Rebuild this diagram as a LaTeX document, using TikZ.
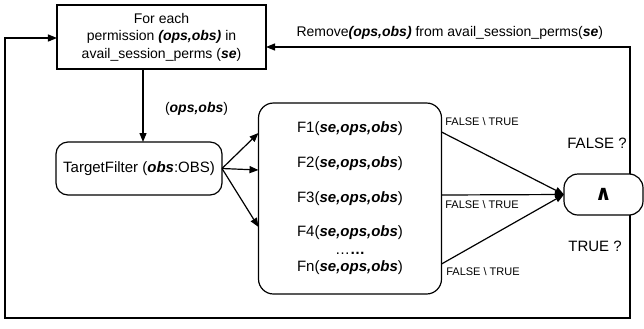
\documentclass[tikz,border=0pt]{standalone}
\usepackage{fontspec}
\setmainfont{Liberation Sans}
\newfontfamily\symfont{DejaVu Sans}
\usetikzlibrary{positioning}
\usetikzlibrary{calc,arrows.meta}

\newcommand{\bi}[1]{\textbf{\textit{#1}}}

\begin{document}
\begin{tikzpicture}[x=1bp,y=-1bp,line width=1.2bp,
		every node/.style={outer sep=0pt,inner sep=0pt},
		mtext/.style={font=\fontsize{14bp}{17.5bp}\selectfont},
		btext/.style={font=\fontsize{15bp}{18bp}\selectfont},
		small/.style={font=\fontsize{11bp}{13bp}\selectfont},
		block/.style={draw,line width=1.2bp,align=center,mtext},
		rblock/.style={block,rounded corners=12bp},
		flow/.style={-{Triangle[length=9bp,width=7bp]}},
		]
		\useasboundingbox (0,0) rectangle (644,328);

		% boxes
		\path (161.5,37) node[block,minimum width=209bp,minimum height=64bp] (top)
			{For each\\permission \bi{(ops,obs)} in\\avail\_session\_perms (\bi{se})};
		\path (139,168.5) node[rblock,btext,minimum width=166bp,minimum height=53bp] (tf)
			{TargetFilter (\bi{obs}:OBS)};
		\path (350,198.5) node[rblock,rounded corners=15bp,minimum width=183bp,minimum height=191bp] (fb) {};
		\path (603.5,194.5) node[rblock,rounded corners=14bp,minimum width=79bp,minimum height=41bp] (and)
			{\fontsize{21bp}{21bp}\symfont\bfseries ∧};

		% functions
		\path (350,129) node[btext] (f1) {F1(\bi{se,ops,obs})};
		\path (350,164) node[btext] (f2) {F2(\bi{se,ops,obs})};
		\path (350,199) node[btext] (f3) {F3(\bi{se,ops,obs})};
		\path (350,233) node[btext] (f4) {F4(\bi{se,ops,obs})};
		\path (350,253) node[btext] (fdots) {\ldots\textbf{\ldots}};
		\path (350,268) node[btext] (fn) {Fn(\bi{se,ops,obs})};

		% loop corners
		\coordinate (tr) at (630,47);
		\coordinate (br) at (630,318);
		\coordinate (bl) at (5,318);
		\coordinate (tl) at (5,38);

		\draw[flow] ([xshift=4bp]tf.north |- top.south) -- ([xshift=4bp]tf.north)
			node[pos=0.55,right=22bp,mtext] (pair) {(\bi{ops,obs})};

		\draw[flow] (tf.east) -- ([yshift=65.5bp]fb.west);
		\draw[flow] (tf.east) -- ([yshift=28.5bp]fb.west);
		\draw[flow] (tf.east) -- ([yshift=-28.5bp]fb.west);

		\draw[flow] ([yshift=66.5bp]fb.east) -- (and.west);
		\draw[flow] ([yshift=3.5bp]fb.east) -- (and.west);
		\draw[flow] ([yshift=-65.5bp]fb.east) -- (and.west);

		\path (482,122) node[small] (l1) {FALSE \textbackslash{} TRUE};
		\path (482,205) node[small] (l2) {FALSE \textbackslash{} TRUE};
		\path (483,272) node[small] (l3) {FALSE \textbackslash{} TRUE};

		\draw[flow] (and.north -| tr) -- (tr) -- (tr -| top.east)
			node[pos=0.495,above=8bp,mtext] (rm) {Remove\bi{(ops,obs)} from avail\_session\_perms(\bi{se})};
		\draw[flow] (and.south -| br) -- (br) -- (bl) -- (tl) -- (tl -| top.west);

		\path (597,143) node[btext] (qf) {FALSE ?};
		\path (595,246) node[btext] (qt) {TRUE ?};

	\end{tikzpicture}
\end{document}
